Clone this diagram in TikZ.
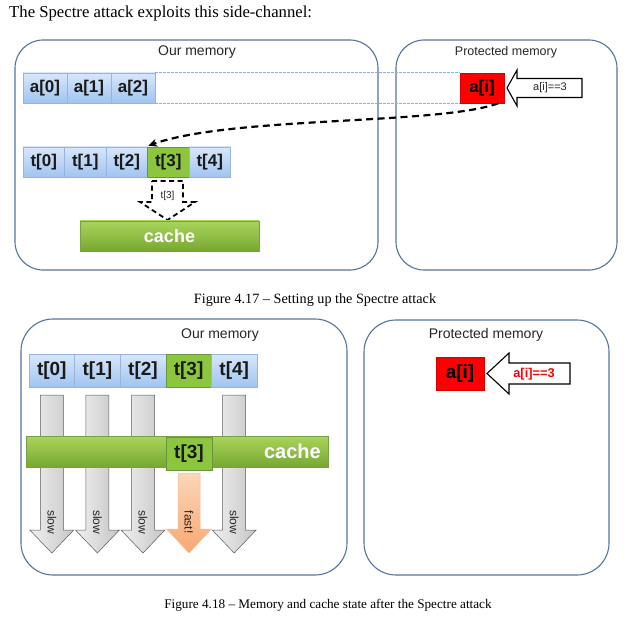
\documentclass[tikz,border=0pt]{standalone}
\usepackage{fontspec}
\setmainfont{Liberation Serif}
\setsansfont{Liberation Sans}
\usetikzlibrary{arrows.meta}
\definecolor{frame}{RGB}{84,115,160}
\definecolor{celltop}{RGB}{216,231,250}
\definecolor{cellbot}{RGB}{160,196,240}
\definecolor{cellbd}{RGB}{150,180,222}
\definecolor{hitgreen}{RGB}{140,198,63}
\definecolor{hitbd}{RGB}{104,150,62}
\definecolor{cachetop}{RGB}{170,212,92}
\definecolor{cachebot}{RGB}{118,168,48}
\definecolor{cachebd}{RGB}{120,160,70}
\definecolor{dashblue}{RGB}{140,175,225}
\definecolor{fasttop}{RGB}{252,214,185}
\definecolor{fastbot}{RGB}{248,168,112}
\definecolor{fastbd}{RGB}{244,190,150}
\definecolor{secret}{RGB}{255,0,0}
\newcommand\fsz[1]{\fontsize{#1}{#1}\selectfont}
\tikzset{
  memframe/.style={draw=frame, line width=1.1pt, rounded corners=28pt},
  frametitle/.style={font=\sffamily\fsz{14}, text=black!85, inner sep=0pt},
  cellbase/.style={inner sep=0pt, font=\sffamily\bfseries, text=black!90, line width=0.5pt},
  cell/.style={cellbase, draw=cellbd, top color=celltop, bottom color=cellbot},
  hit/.style={cellbase, draw=hitbd, fill=hitgreen},
  secretcell/.style={cellbase, draw=red!85!black, fill=secret, text=black},
  cachebar/.style={draw=cachebd, top color=cachetop, bottom color=cachebot, line width=0.5pt},
  cachetext/.style={font=\sffamily\bfseries, text=white, inner sep=0pt},
  blockarrow/.style={draw=black, line width=1.1pt, fill=white, line join=miter},
  dashblock/.style={draw=black, line width=1.8pt, dash pattern=on 5pt off 3.5pt},
  dashcurve/.style={draw=black, line width=2.2pt, dash pattern=on 7pt off 4.5pt, -{Stealth[length=9pt,width=8pt]}},
  guide/.style={draw=dashblue, line width=0.6pt, dash pattern=on 2.5pt off 1.5pt},
  grayarrow/.style={draw=gray!70!black, line width=0.5pt, left color=gray!12, right color=gray!45},
  fastarrow/.style={draw=fastbd, line width=0.5pt, top color=fasttop, bottom color=fastbot},
  vlabel/.style={rotate=-90, font=\sffamily\fsz{12}, text=black!85, inner sep=0pt},
  smalllabel/.style={font=\sffamily\fsz{11}, text=black!85, inner sep=0pt},
}
\begin{document}
\begin{tikzpicture}[x=1pt,y=-1pt]
\useasboundingbox (0,0) rectangle (628,617);

% ---------- title ----------
\node[anchor=base west, inner sep=0pt, font=\fsz{16.7}] (title) at (9,18) {The Spectre attack exploits this side-channel:};

% ---------- Figure 4.17 ----------
\draw[memframe] (15,40) rectangle (378,270);
\draw[memframe] (396,40) rectangle (617,270);
\node[frametitle] (our1) at (197,52) {Our memory};
\node[frametitle, font=\sffamily\fsz{12.5}] (prot1) at (506,52) {Protected memory};

\node[cell, minimum width=44, minimum height=30, font=\sffamily\bfseries\fsz{17}] (a0) at (45,88) {a[0]};
\node[cell, minimum width=44, minimum height=30, font=\sffamily\bfseries\fsz{17}] (a1) at (89,88) {a[1]};
\node[cell, minimum width=44, minimum height=30, font=\sffamily\bfseries\fsz{17}] (a2) at (133,88) {a[2]};
\node[secretcell, minimum width=44, minimum height=30, font=\sffamily\bfseries\fsz{17}] (ai) at (482,88) {a[i]};
\draw[guide] (a2.north east) -- (ai.north west);
\draw[guide] (a2.south east) -- (ai.south west);

\draw[blockarrow] (507,88) -- (517,70) -- (517,78.5) -- (582,78.5) -- (582,97.5) -- (517,97.5) -- (517,106) -- cycle;
\node[smalllabel] (cond1) at (550,88) {a[i]==3};

\node[cell, minimum width=41.5, minimum height=30, font=\sffamily\bfseries\fsz{17}] (t0) at (43.75,162) {t[0]};
\node[cell, minimum width=41.5, minimum height=30, font=\sffamily\bfseries\fsz{17}] (t1) at (85.25,162) {t[1]};
\node[cell, minimum width=41.5, minimum height=30, font=\sffamily\bfseries\fsz{17}] (t2) at (126.75,162) {t[2]};
\node[hit, minimum width=41.5, minimum height=30, font=\sffamily\bfseries\fsz{17}] (t3) at (168.25,162) {t[3]};
\node[cell, minimum width=41.5, minimum height=30, font=\sffamily\bfseries\fsz{17}] (t4) at (209.75,162) {t[4]};

\draw[dashcurve] ([xshift=-6pt]ai.south east) .. controls (440,125) and (232,116) .. ([xshift=1pt,yshift=1pt]t3.north west);

\draw[dashblock] (152,181) -- (183,181) -- (183,202) -- (195,202) -- (167.5,220) -- (140,202) -- (152,202) -- cycle;
\node[smalllabel, font=\sffamily\fsz{10}] (t3lab) at (167.5,196) {t[3]};

\node[cachebar, minimum width=179, minimum height=30, inner sep=0pt] (cache1) at (169.5,236) {};
\node[cachetext, font=\sffamily\bfseries\fsz{18}] (cache1t) at (169.5,236) {cache};

\node[anchor=base, inner sep=0pt, font=\fsz{14.2}] (cap1) at (315,303) {Figure 4.17 – Setting up the Spectre attack};

% ---------- Figure 4.18 ----------
\draw[memframe, rounded corners=32pt] (21,319) rectangle (347,575);
\draw[memframe, rounded corners=32pt] (364,320) rectangle (609,575);
\node[frametitle] (our2) at (220,335) {Our memory};
\node[frametitle] (prot2) at (486,335) {Protected memory};

\node[cell, minimum width=45.6, minimum height=33, font=\sffamily\bfseries\fsz{19}] (u0) at (51.8,370.5) {t[0]};
\node[cell, minimum width=45.6, minimum height=33, font=\sffamily\bfseries\fsz{19}] (u1) at (97.4,370.5) {t[1]};
\node[cell, minimum width=45.6, minimum height=33, font=\sffamily\bfseries\fsz{19}] (u2) at (143,370.5) {t[2]};
\node[hit, minimum width=45.6, minimum height=33, font=\sffamily\bfseries\fsz{19}] (u3) at (188.6,370.5) {t[3]};
\node[cell, minimum width=45.6, minimum height=33, font=\sffamily\bfseries\fsz{19}] (u4) at (234.2,370.5) {t[4]};

\foreach \cx/\nm in {51.8/s0, 97.4/s1, 143/s2, 234.2/s4}{
  \draw[grayarrow] ({\cx-11.5},395) -- ({\cx+11.5},395) -- ({\cx+11.5},530) -- ({\cx+22},530) -- (\cx,553) -- ({\cx-22},530) -- ({\cx-11.5},530) -- cycle;
  \node[vlabel] (\nm) at (\cx,522) {slow};
}

\node[cachebar, minimum width=302, minimum height=31, inner sep=0pt] (cache2) at (177,451.5) {};
\node[cachetext, anchor=east, font=\sffamily\bfseries\fsz{20}] (cache2t) at (321,451.5) {cache};
\node[hit, minimum width=46, minimum height=33, font=\sffamily\bfseries\fsz{19}] (c3) at (189,453.5) {t[3]};

\draw[fastarrow] (178,473) -- (200,473) -- (200,529) -- (211.5,529) -- (189,553) -- (166.5,529) -- (178,529) -- cycle;
\node[vlabel] (fast) at (189,522) {fast!};

\node[secretcell, minimum width=48, minimum height=33, font=\sffamily\bfseries\fsz{19}] (bi) at (460,373.5) {a[i]};
\draw[blockarrow] (487,373.5) -- (509,353) -- (509,363) -- (570,363) -- (570,384) -- (509,384) -- (509,394) -- cycle;
\node[smalllabel, font=\sffamily\bfseries\fsz{12.8}, text=red] (cond2) at (534,374) {a[i]==3};

\node[anchor=base, inner sep=0pt, font=\fsz{13.2}] (cap2) at (328,608) {Figure 4.18 – Memory and cache state after the Spectre attack};
\end{tikzpicture}
\end{document}
